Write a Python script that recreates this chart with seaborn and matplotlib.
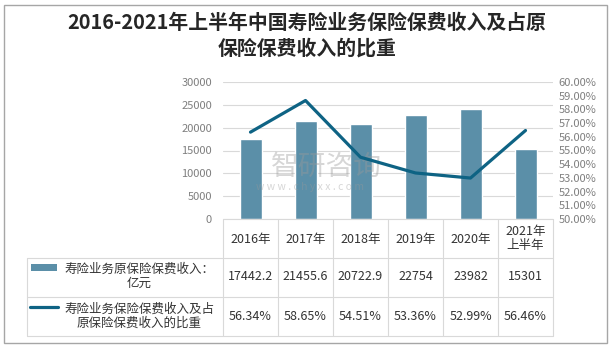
import numpy as np
import pandas as pd
import matplotlib
matplotlib.use('Agg')
import matplotlib.pyplot as plt
import seaborn as sns
from matplotlib.lines import Line2D
from matplotlib.patches import Rectangle
from matplotlib.transforms import blended_transform_factory

# ---------------- data ----------------
categories = ['2016年', '2017年', '2018年', '2019年', '2020年', '2021年\n上半年']
premium = [17442.2, 21455.6, 20722.9, 22754, 23982, 15301]
premium_labels = ['17442.2', '21455.6', '20722.9', '22754', '23982', '15301']
share = [56.34, 58.65, 54.51, 53.36, 52.99, 56.46]
share_labels = ['56.34%', '58.65%', '54.51%', '53.36%', '52.99%', '56.46%']
series_names = ['寿险业务原保险保费收入：\n亿元', '寿险业务保险保费收入及占\n原保险保费收入的比重']
title = '2016-2021年上半年中国寿险业务保险保费收入及占原\n保险保费收入的比重'
left_ticks = [0, 5000, 10000, 15000, 20000, 25000, 30000]
right_ticks = [50, 51, 52, 53, 54, 55, 56, 57, 58, 59, 60]

bar_color = '#5B8FA8'
line_color = '#0E6384'
grid_color = '#D9D9D9'
tick_color = '#7F7F7F'
text_color = '#333333'

sns.set_theme(style='white')
plt.rcParams['font.family'] = ['Noto Sans CJK SC', 'DejaVu Sans']

W, H = 615, 346
fig = plt.figure(figsize=(W / 100, H / 100), dpi=100)


def fx(px):
    return px / W


def fy(py):
    return 1 - py / H


ax = fig.add_axes([fx(223), fy(219), fx(553) - fx(223), fy(82) - fy(219)])
df = pd.DataFrame({'cat': categories, 'premium': premium, 'share': share,
                   'pos': np.arange(len(categories))})

sns.barplot(data=df, x='cat', y='premium', color=bar_color, width=0.4,
            saturation=1, ax=ax)
ax.set_xlim(-0.5, len(categories) - 0.5)
ax.set_ylim(0, 30000)
ax.set_yticks(left_ticks)
ax.set_yticklabels([str(t) for t in left_ticks])
ax.grid(axis='y', color=grid_color, lw=0.8)
ax.set_axisbelow(True)
for s in ax.spines.values():
    s.set_visible(False)
ax.set_xticks([])
ax.set_xlabel('')
ax.set_ylabel('')
ax.tick_params(axis='y', length=0, labelsize=8, colors=tick_color, pad=8)

# watermark (between bars and line)
ax.text(fx(326), fy(167), '智研咨询', transform=fig.transFigure, ha='center',
        va='center', fontsize=20, color='#9A9A9A', alpha=0.4, zorder=5,
        clip_on=False)
ax.text(fx(310), fy(187), 'w w w . c h y x x . c o m', transform=fig.transFigure,
        ha='center', va='center', fontsize=7.5, color='#9A9A9A', alpha=0.4,
        zorder=5, clip_on=False)

ax2 = ax.twinx()
sns.lineplot(data=df, x='pos', y='share', color=line_color, lw=2.3, ax=ax2)
ax2.set_xlim(-0.5, len(categories) - 0.5)
ax2.set_ylim(50, 60)
ax2.set_yticks(right_ticks)
ax2.set_yticklabels([f'{v:.2f}%' for v in right_ticks])
for s in ax2.spines.values():
    s.set_visible(False)
ax2.set_xlabel('')
ax2.set_ylabel('')
ax2.grid(False)
ax2.tick_params(axis='y', length=0, labelsize=8, colors=tick_color, pad=4)

# ---------------- data table ----------------
def hline(y, x0, x1):
    fig.add_artist(Line2D([fx(x0), fx(x1)], [fy(y), fy(y)], color=grid_color,
                          lw=0.8, transform=fig.transFigure))


def vline(x, y0, y1):
    fig.add_artist(Line2D([fx(x), fx(x)], [fy(y0), fy(y1)], color=grid_color,
                          lw=0.8, transform=fig.transFigure))


hline(219, 223, 553)
for y in (258, 297, 336):
    hline(y, 27, 553)
vline(27, 258, 336)
for i in range(len(categories) + 1):
    vline(223 + 55 * i, 219, 336)

tr = blended_transform_factory(ax.transData, fig.transFigure)
for i, (c, p, s) in enumerate(zip(categories, premium_labels, share_labels)):
    ax.text(i, fy(239), c, transform=tr, ha='center', va='center', fontsize=9,
            color=text_color, linespacing=1.1, clip_on=False)
    ax.text(i, fy(277), p, transform=tr, ha='center', va='center', fontsize=9,
            color=text_color, clip_on=False)
    ax.text(i, fy(317), s, transform=tr, ha='center', va='center', fontsize=9,
            color=text_color, clip_on=False)

# legend keys inside the table
fig.add_artist(Rectangle((fx(31), fy(271)), fx(57) - fx(31), fy(264) - fy(271),
                         facecolor=bar_color, edgecolor='none',
                         transform=fig.transFigure))
fig.add_artist(Line2D([fx(30), fx(58)], [fy(307), fy(307)], color=line_color,
                      lw=2.3, transform=fig.transFigure))
fig.text(fx(139), fy(276), series_names[0], ha='center', va='center',
         fontsize=9, color=text_color, linespacing=1.1)
fig.text(fx(139), fy(316), series_names[1], ha='center', va='center',
         fontsize=9, color=text_color, linespacing=1.1)

# title
fig.text(fx(307), fy(35), title, ha='center', va='center', fontsize=14.3,
         fontweight='bold', color='#262626', linespacing=1.25)

# outer frame
fig.add_artist(Rectangle((fx(4), fy(343)), fx(607) - fx(4), fy(5) - fy(343),
                         facecolor='none', edgecolor='#A6A6A6', lw=1,
                         transform=fig.transFigure))

fig.savefig('out.png', dpi=100)
